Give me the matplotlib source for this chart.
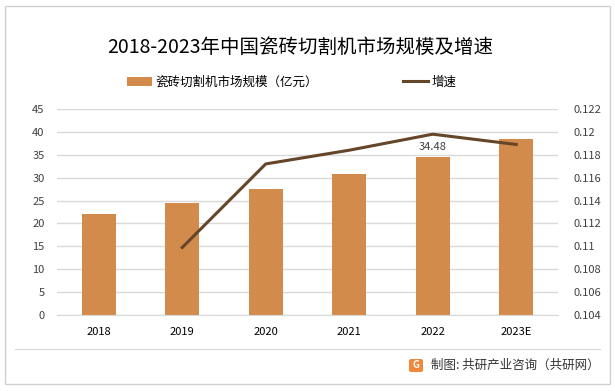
import matplotlib.pyplot as plt
import matplotlib.patches as mpatches
from matplotlib.ticker import FuncFormatter

plt.rcParams['font.family'] = ['Noto Sans CJK SC', 'DejaVu Sans']

# Data
years = ['2018', '2019', '2020', '2021', '2022', '2023E']
market_size = [22.05, 24.45, 27.5, 30.8, 34.48, 38.4]   # 亿元
growth_years = ['2019', '2020', '2021', '2022', '2023E']
growth = [0.1099, 0.1172, 0.1184, 0.1198, 0.1189]

bar_color = '#D38B4C'
line_color = '#654628'
grid_color = '#D9D9D9'
text_color = '#404040'

fig = plt.figure(figsize=(6.15, 3.91), dpi=100)
ax = fig.add_axes([0.0927, 0.1944, 0.8146, 0.5268])
ax2 = ax.twinx()

x = list(range(len(years)))
bars = ax.bar(x, market_size, width=0.41, color=bar_color, zorder=2,
              label='瓷砖切割机市场规模（亿元）')
gx = [years.index(y) for y in growth_years]
ax2.plot(gx, growth, color=line_color, linewidth=2.2, label='增速', zorder=3)

# data label only on 2022
i22 = years.index('2022')
ax.text(i22, market_size[i22] + 1.2, f'{market_size[i22]:.2f}', ha='center',
        va='bottom', fontsize=8, color=text_color, zorder=4)

ax.set_xlim(-0.5, len(years) - 0.5)
ax.set_ylim(0, 45)
ax.set_yticks(range(0, 46, 5))
ax2.set_ylim(0.104, 0.122)
ax2.set_yticks([0.104 + 0.002 * k for k in range(10)])
ax2.yaxis.set_major_formatter(FuncFormatter(lambda v, p: f'{v:.3f}'.rstrip('0').rstrip('.')))

ax.set_xticks(x)
ax.set_xticklabels(years)
ax.yaxis.grid(True, color=grid_color, linewidth=1, zorder=0)
ax.set_axisbelow(True)

for a in (ax, ax2):
    for s in a.spines.values():
        s.set_visible(False)
    a.tick_params(length=0, labelsize=8, labelcolor=text_color)
ax.tick_params(axis='y', pad=9)
ax.tick_params(axis='x', pad=9, labelcolor='black')
ax2.tick_params(axis='y', pad=11)
ax.spines['bottom'].set_visible(True)
ax.spines['bottom'].set_color(grid_color)

fig.text(300 / 615, 1 - 47 / 391, '2018-2023年中国瓷砖切割机市场规模及增速', ha='center',
         va='center', fontsize=14, color='black')

handles = [bars, ax2.get_lines()[0]]
fig.legend(handles, [h.get_label() for h in handles], loc='center',
           bbox_to_anchor=(292 / 615, 1 - 82 / 391), ncol=2, frameon=False, fontsize=9,
           columnspacing=6.8, handlelength=2.0, handletextpad=0.3)

# outer border and footer line
fig.patches.append(mpatches.Rectangle((5 / 615, 7 / 391), 605 / 615, 378 / 391,
                                      transform=fig.transFigure, fill=False,
                                      edgecolor='#D0D0D0', linewidth=1))
fig.add_artist(plt.Line2D([15 / 615, 600 / 615], [1 - 349 / 391, 1 - 349 / 391],
                          transform=fig.transFigure, color='#D9D9D9', linewidth=0.8))

# source label with small icon
fig.patches.append(mpatches.FancyBboxPatch((409 / 615, 1 - 372 / 391), 14 / 615, 13 / 391,
                                           boxstyle='round,pad=0,rounding_size=0.004',
                                           transform=fig.transFigure,
                                           facecolor='#F0883C', edgecolor='none'))
fig.text(416 / 615, 1 - 365.5 / 391, 'G', ha='center', va='center', fontsize=7,
         color='white', fontweight='bold')
fig.text(600 / 615, 1 - 365 / 391, '制图: 共研产业咨询（共研网）', ha='right',
         va='center', fontsize=9, color='#333333', fontweight='medium')

fig.savefig('out.png', dpi=100)
